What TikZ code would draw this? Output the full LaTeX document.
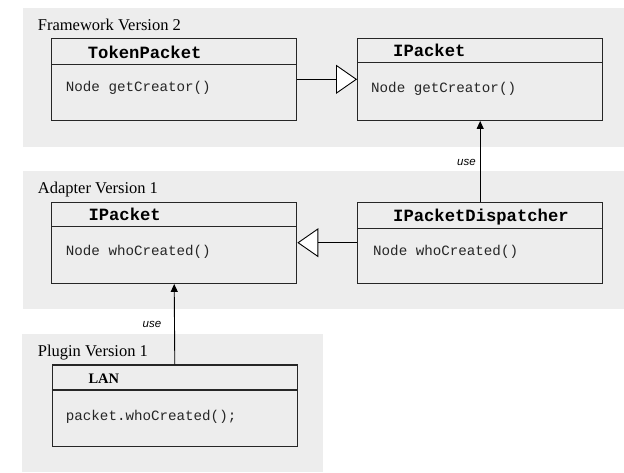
\documentclass[tikz,border=0pt]{standalone}
\usepackage{fontspec}
\setmainfont{Liberation Serif}
\setmonofont{Liberation Mono}
\newfontfamily\labelfont{Liberation Sans}
\usetikzlibrary{arrows.meta}
\definecolor{panelgrey}{HTML}{EDEDED}
\definecolor{edgegrey}{HTML}{262626}
\tikzset{
  panel/.style={fill=panelgrey, draw=none},
  paneltitle/.style={anchor=base west, inner sep=0pt, font=\fontsize{16.5}{18}\selectfont},
  classbox/.style={draw=edgegrey, line width=1.3pt, minimum width=245pt, inner sep=0pt},
  divider/.style={draw=edgegrey, line width=1.1pt},
  classname/.style={anchor=base west, inner sep=0pt, font=\ttfamily\bfseries\fontsize{17.2}{19}\selectfont},
  member/.style={anchor=base west, inner sep=0pt, text=black!85, font=\ttfamily\fontsize{14.2}{16}\selectfont},
  inherit/.style={line width=0.9pt, -{Triangle[length=21pt,width=29pt,fill=white]}},
  uses/.style={line width=0.9pt, -{Triangle[length=8pt,width=7pt]}},
  uselabel/.style={anchor=base, inner sep=0pt, font=\labelfont\itshape\fontsize{11.5}{13}\selectfont}
}
\begin{document}
\begin{tikzpicture}[x=1pt,y=-1pt]
\useasboundingbox (0,0) rectangle (624,472);

% package panels
\fill[panel] (23,8) rectangle (624,146.7);
\fill[panel] (23,170.7) rectangle (624,309);
\fill[panel] (22,334) rectangle (322.7,472);

\node[paneltitle] (fwtitle) at (37.7,30) {Framework Version 2};
\node[paneltitle] (adtitle) at (37.7,193.3) {Adapter Version 1};
\node[paneltitle] (pltitle) at (37.7,356) {Plugin Version 1};

% Framework Version 2
\node[classbox, minimum height=81.6pt] (tp) at (174.2,79.5) {};
\draw[divider] (tp.west |- 0,64.5) -- (tp.east |- 0,64.5);
\node[classname] (tpname) at (87.7,58.3) {TokenPacket};
\node[member] (tpop) at (65.7,91.5) {Node getCreator()};

\node[classbox, minimum height=81.6pt] (ipf) at (480.2,79.5) {};
\draw[divider] (ipf.west |- 0,62.7) -- (ipf.east |- 0,62.7);
\node[classname] (ipfname) at (393,56.5) {IPacket};
\node[member] (ipfop) at (371,92) {Node getCreator()};

% Adapter Version 1
\node[classbox, minimum height=81pt] (ipa) at (174.2,242.8) {};
\draw[divider] (ipa.west |- 0,226.7) -- (ipa.east |- 0,226.7);
\node[classname] (ipaname) at (88.3,220) {IPacket};
\node[member] (ipaop) at (65.7,255) {Node whoCreated()};

\node[classbox, minimum height=81pt] (disp) at (480.2,242.8) {};
\draw[divider] (disp.west |- 0,228.3) -- (disp.east |- 0,228.3);
\node[classname] (dispname) at (393,221.7) {IPacketDispatcher};
\node[member] (dispop) at (373,255) {Node whoCreated()};

% Plugin Version 1
\node[classbox, minimum height=81.7pt] (lan) at (174.8,405.9) {};
\draw[divider] (lan.west |- 0,390) -- (lan.east |- 0,390);
\node[anchor=base west, inner sep=0pt, font=\bfseries\fontsize{14.5}{16}\selectfont] (lanname) at (88.3,383.3) {LAN};
\node[member] (lanop) at (65.7,420) {packet.whoCreated();};

% generalisations
\draw[inherit] (tp.east |- 0,79.3) -- (ipf.west |- 0,79.3);
\draw[inherit] (disp.west |- 0,242.7) -- (ipa.east |- 0,242.7);

% usage dependencies
\draw[uses] (disp.north) -- (ipf.south);
\draw[uses] (lan.north) -- (ipa.south);
\node[uselabel] (use1) at (466.5,165) {use};
\node[uselabel] (use2) at (152,327) {use};
\end{tikzpicture}
\end{document}
